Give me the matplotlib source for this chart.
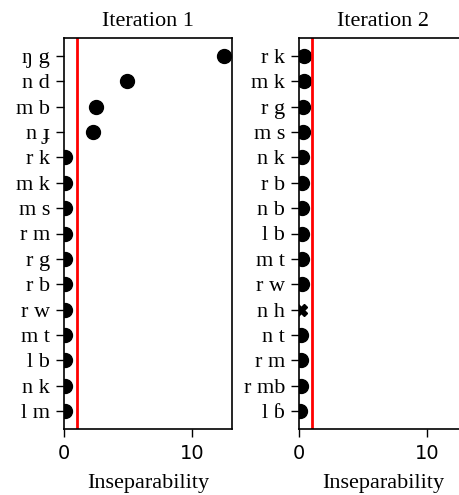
import matplotlib
matplotlib.use('Agg')
import matplotlib.pyplot as plt

# pairs and inseparability scores
PAIRS_1 = ['ŋ g', 'n d', 'm b', 'n ɟ', 'r k', 'm k', 'm s', 'r m', 'r g', 'r b', 'r w', 'm t', 'l b', 'n k', 'l m']
SCORES_1 = [12.45, 4.9, 2.5, 2.25, 0.1, 0.1, 0.1, 0.1, 0.1, 0.1, 0.1, 0.1, 0.1, 0.1, 0.1]

PAIRS_2 = ['r k', 'm k', 'r g', 'm s', 'n k', 'r b', 'n b', 'l b', 'm t', 'r w', 'n h', 'n t', 'r m', 'r mb', 'l ɓ']
SCORES_2 = [0.4, 0.4, 0.35, 0.3, 0.25, 0.25, 0.2, 0.2, 0.2, 0.2, 0.15, 0.15, 0.15, 0.12, 0.1]

THRESHOLD = 1.0
XMAX = 13.1

SERIF = ['Liberation Serif', 'DejaVu Serif']

fig = plt.figure(figsize=(4.6, 4.95), dpi=100)
ax1 = fig.add_axes([64/460, 1 - 429/495, 168/460, 391/495])
ax2 = fig.add_axes([299/460, 1 - 429/495, 168/460, 391/495])

for ax, pairs, scores, title in [(ax1, PAIRS_1, SCORES_1, 'Iteration 1'),
                                 (ax2, PAIRS_2, SCORES_2, 'Iteration 2')]:
    ys = list(range(len(pairs)))
    for y, s, p in zip(ys, scores, pairs):
        if p == 'n h' and ax is ax2:
            ax.plot(s, y, marker='X', color='black', markersize=8, linestyle='none')
        else:
            ax.plot(s, y, marker='o', color='black', markersize=10, linestyle='none')
    ax.axvline(THRESHOLD, color='red', linewidth=2)
    ax.set_yticks(ys)
    ax.set_yticklabels(pairs, family=SERIF, fontsize=16)
    ax.set_ylim(len(pairs) - 0.3, -0.7)
    ax.set_xlim(0, XMAX)
    ax.set_xticks([0, 10])
    ax.tick_params(axis='x', labelsize=14, length=6, width=1, pad=5)
    ax.tick_params(axis='y', length=6, width=1, pad=4)
    ax.set_title(title, family=SERIF, fontsize=16, pad=9)
    ax.set_xlabel('Inseparability', family=SERIF, fontsize=16, labelpad=8)
    for sp in ax.spines.values():
        sp.set_linewidth(1.2)

fig.savefig('out.png', dpi=100)
